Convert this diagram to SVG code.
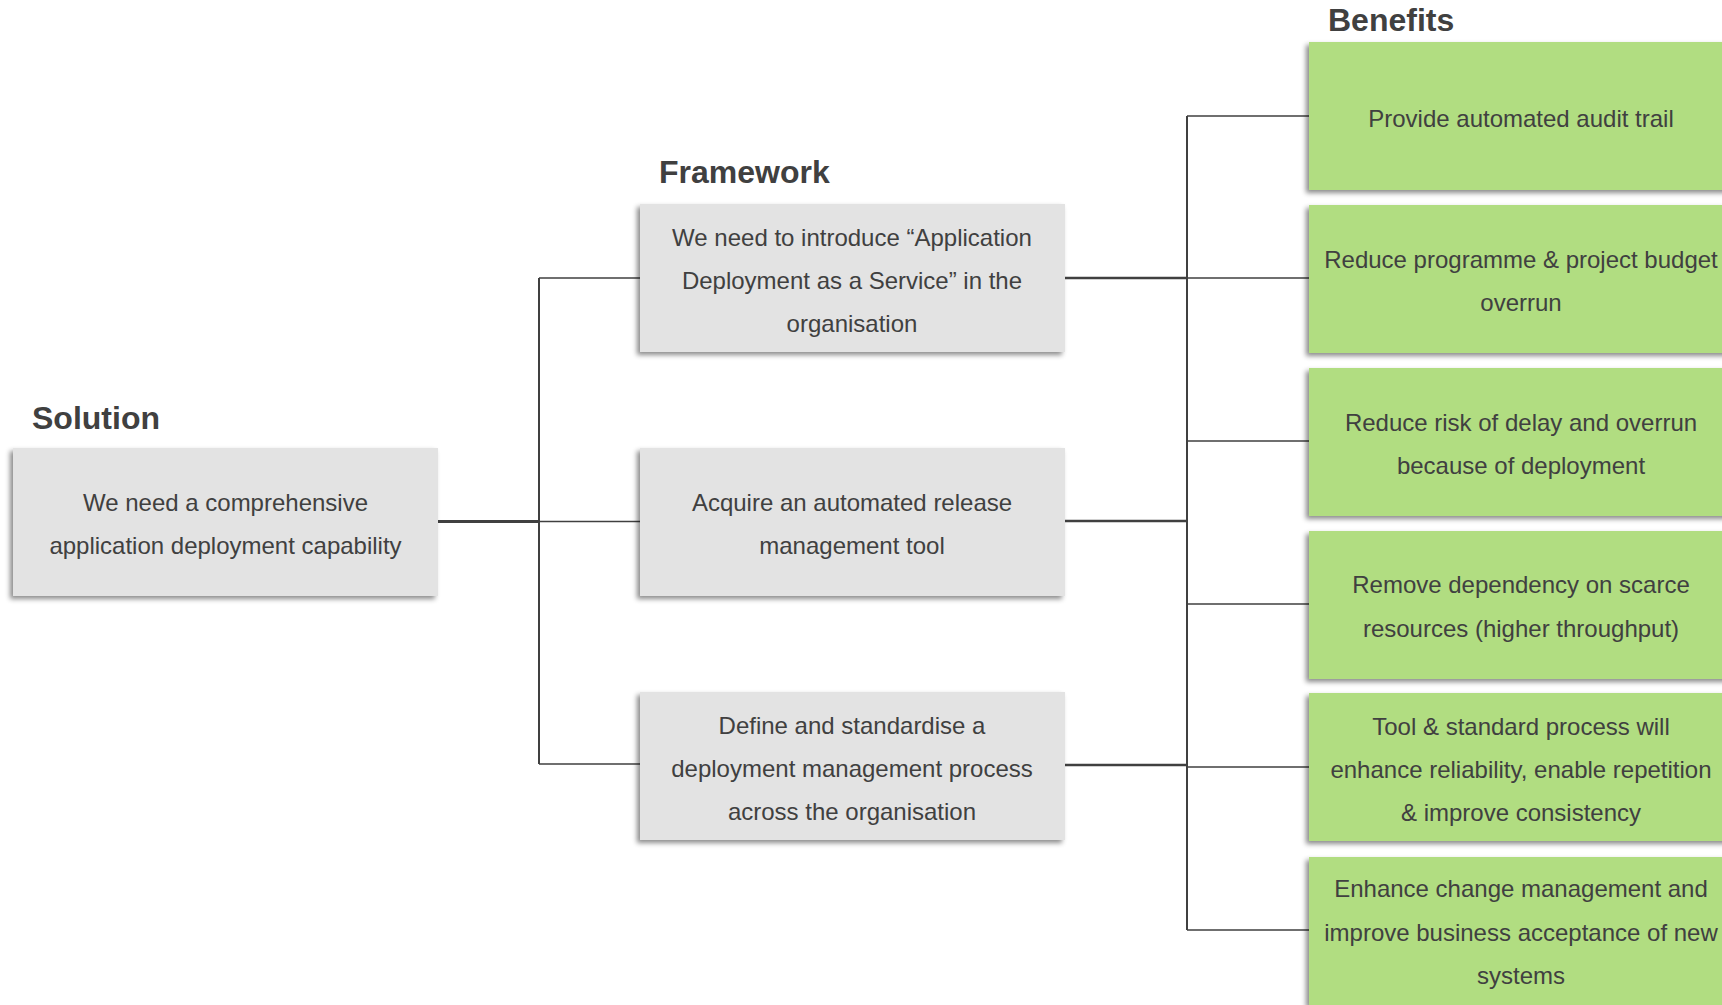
<svg xmlns="http://www.w3.org/2000/svg" width="1722" height="1005" viewBox="0 0 1722 1005">
<defs>
<filter id="sh" x="-10%" y="-10%" width="120%" height="125%">
<feDropShadow dx="-3" dy="3" stdDeviation="2.5" flood-color="#000" flood-opacity="0.45"/>
</filter>
<style>
.title{font-family:"Liberation Sans",Arial,sans-serif;font-weight:bold;font-size:32px;fill:#404040}
.t{font-family:"Liberation Sans",Arial,sans-serif;font-size:24px;fill:#404040;text-anchor:middle}
.gray{fill:#e3e3e3;filter:url(#sh)}
.green{fill:#b1dd81;filter:url(#sh)}
.ln{stroke:#404040;fill:none}
</style>
</defs>
<rect width="1722" height="1005" fill="#fff"/>
<text class="title" x="32" y="429">Solution</text>
<text class="title" x="659" y="183">Framework</text>
<text class="title" x="1328" y="31">Benefits</text>
<g id="connectors">
<path class="ln" stroke-width="3" d="M438 521.5H539"/>
<path class="ln" stroke-width="2" d="M539 278V764"/>
<path class="ln" stroke-width="1.5" d="M539 278H640M539 521.5H640M539 764H640"/>
<path class="ln" stroke-width="2.5" d="M1065 278H1187M1065 521H1187M1065 765H1187"/>
<path class="ln" stroke-width="2" d="M1187 116V930"/>
<path class="ln" stroke-width="1.5" d="M1187 116H1309M1187 278H1309M1187 441H1309M1187 604H1309M1187 767H1309M1187 930H1309"/>
</g>
<g id="solution">
<rect class="gray" x="13" y="448" width="425" height="148"/>
<text class="t" x="225.5" y="511">We need a comprehensive</text>
<text class="t" x="225.5" y="554">application deployment capability</text>
</g>
<g id="fw1">
<rect class="gray" x="640" y="204" width="425" height="148"/>
<text class="t" x="852" y="246">We need to introduce “Application</text>
<text class="t" x="852" y="289">Deployment as a Service” in the</text>
<text class="t" x="852" y="332">organisation</text>
</g>
<g id="fw2">
<rect class="gray" x="640" y="448" width="425" height="148"/>
<text class="t" x="852" y="511">Acquire an automated release</text>
<text class="t" x="852" y="554">management tool</text>
</g>
<g id="fw3">
<rect class="gray" x="640" y="692" width="425" height="148"/>
<text class="t" x="852" y="734">Define and standardise a</text>
<text class="t" x="852" y="777">deployment management process</text>
<text class="t" x="852" y="820">across the organisation</text>
</g>
<g id="b1">
<rect class="green" x="1309" y="42" width="425" height="148"/>
<text class="t" x="1521" y="127">Provide automated audit trail</text>
</g>
<g id="b2">
<rect class="green" x="1309" y="205" width="425" height="148"/>
<text class="t" x="1521" y="268">Reduce programme &amp; project budget</text>
<text class="t" x="1521" y="311">overrun</text>
</g>
<g id="b3">
<rect class="green" x="1309" y="368" width="425" height="148"/>
<text class="t" x="1521" y="431">Reduce risk of delay and overrun</text>
<text class="t" x="1521" y="474">because of deployment</text>
</g>
<g id="b4">
<rect class="green" x="1309" y="531" width="425" height="148"/>
<text class="t" x="1521" y="593">Remove dependency on scarce</text>
<text class="t" x="1521" y="637">resources (higher throughput)</text>
</g>
<g id="b5">
<rect class="green" x="1309" y="693" width="425" height="148"/>
<text class="t" x="1521" y="735">Tool &amp; standard process will</text>
<text class="t" x="1521" y="778">enhance reliability, enable repetition</text>
<text class="t" x="1521" y="821">&amp; improve consistency</text>
</g>
<g id="b6">
<rect class="green" x="1309" y="857" width="425" height="148"/>
<text class="t" x="1521" y="897">Enhance change management and</text>
<text class="t" x="1521" y="941">improve business acceptance of new</text>
<text class="t" x="1521" y="984">systems</text>
</g>
</svg>
